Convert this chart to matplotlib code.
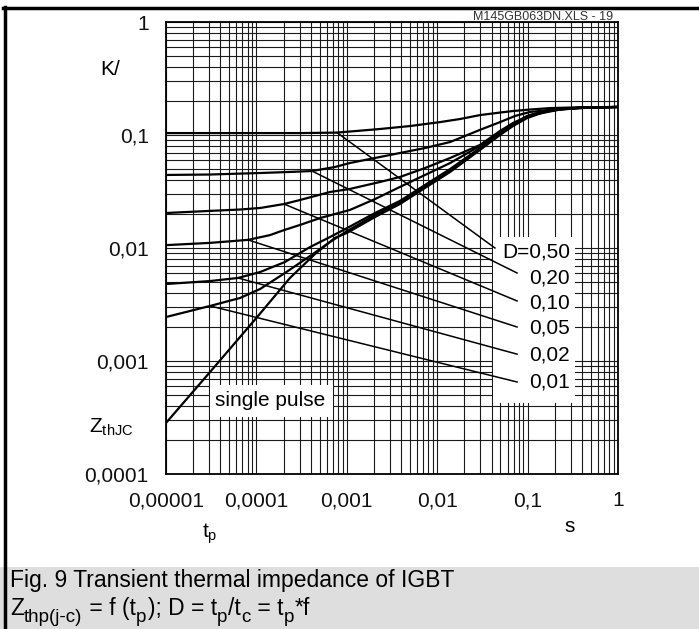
import matplotlib
matplotlib.use("Agg")
import matplotlib.pyplot as plt
from matplotlib.patches import Rectangle
from matplotlib.lines import Line2D

plt.rcParams['font.family'] = 'Liberation Sans'
plt.rcParams['mathtext.fontset'] = 'custom'
plt.rcParams['mathtext.rm'] = 'Liberation Sans'
plt.rcParams['mathtext.it'] = 'Liberation Sans:italic'

# ---------------- data (tp in s, Z in K/W) ----------------
tp_single = [1e-5, 3.07e-5, 1.02e-4, 2.35e-4, 4.45e-4, 7.40e-4, 1.005e-3, 2.05e-3, 3.87e-3, 7.33e-3,
             1.39e-2, 2.97e-2, 4.95e-2, 6.89e-2, 9.85e-2, 0.164, 0.38, 1.0]
z_single = [0.000283, 0.000799, 0.00245, 0.00543, 0.00885, 0.0123, 0.0136, 0.0188, 0.0245, 0.0340,
            0.0471, 0.0737, 0.100, 0.120, 0.141, 0.163, 0.175, 0.177]

tp_d001 = [1e-5, 3.07e-5, 6.59e-5, 1.10e-4, 2.07e-4, 3.92e-4, 6.52e-4, 1.005e-3, 2.05e-3, 3.87e-3,
           7.33e-3, 1.39e-2, 2.97e-2, 4.95e-2, 6.89e-2, 9.85e-2, 0.164, 0.38, 1.0]
z_d001 = [0.00245, 0.00307, 0.00361, 0.00434, 0.00601, 0.00849, 0.0113, 0.0141, 0.0196, 0.0253,
          0.0347, 0.0480, 0.0752, 0.102, 0.1214, 0.144, 0.1647, 0.175, 0.177]

tp_d002 = [1e-5, 3.07e-5, 6.25e-5, 1.10e-4, 2.07e-4, 3.92e-4, 6.52e-4, 1.005e-3, 2.05e-3, 3.87e-3,
           7.33e-3, 1.39e-2, 2.97e-2, 4.95e-2, 6.89e-2, 9.85e-2, 0.164, 0.38, 1.0]
z_d002 = [0.00480, 0.00510, 0.00543, 0.00613, 0.00752, 0.0102, 0.0125, 0.0150, 0.0204, 0.0261,
          0.0361, 0.0500, 0.0767, 0.104, 0.123, 0.1473, 0.166, 0.175, 0.177]

tp_d005 = [1e-5, 3.07e-5, 8.07e-5, 1.41e-4, 2.02e-4, 3.04e-4, 5.05e-4, 1.08e-3, 2.05e-3, 3.87e-3,
           7.33e-3, 1.39e-2, 2.97e-2, 4.95e-2, 6.89e-2, 0.106, 0.228, 0.49, 1.0]
z_d005 = [0.0106, 0.0111, 0.0118, 0.0130, 0.0144, 0.0160, 0.0184, 0.0217, 0.0271, 0.0347,
          0.0443, 0.0565, 0.0799, 0.1063, 0.125, 0.1488, 0.168, 0.175, 0.177]

tp_d010 = [1e-5, 3.07e-5, 6.59e-5, 1.10e-4, 2.02e-4, 3.04e-4, 6.52e-4, 1.08e-3, 2.33e-3, 3.87e-3,
           7.33e-3, 1.39e-2, 2.97e-2, 4.95e-2, 6.89e-2, 0.106, 0.228, 0.49, 1.0]
z_d010 = [0.0204, 0.0213, 0.0219, 0.0226, 0.0245, 0.0266, 0.0313, 0.0333, 0.0384, 0.0425,
          0.0510, 0.0626, 0.0816, 0.1085, 0.1277, 0.150, 0.170, 0.175, 0.177]

tp_d020 = [1e-5, 3.07e-5, 1.10e-4, 2.35e-4, 4.12e-4, 7.40e-4, 1.08e-3, 2.05e-3, 3.87e-3, 7.33e-3,
           1.39e-2, 2.03e-2, 2.97e-2, 4.95e-2, 7.26e-2, 0.106, 0.228, 0.49, 1.0]
z_d020 = [0.0443, 0.0447, 0.0461, 0.0471, 0.0480, 0.0521, 0.0565, 0.0626, 0.0693, 0.0767,
          0.0867, 0.098, 0.111, 0.130, 0.1473, 0.1598, 0.170, 0.175, 0.177]

tp_d050 = [1e-5, 8.49e-5, 3.04e-4, 7.79e-4, 2.33e-3, 5.00e-3, 1.07e-2, 1.79e-2, 2.97e-2, 4.95e-2,
           6.89e-2, 0.106, 0.177, 0.38, 1.0]
z_d050 = [0.104, 0.104, 0.104, 0.105, 0.113, 0.120, 0.130, 0.1385, 0.150, 0.158,
          0.163, 0.168, 0.173, 0.1759, 0.177]

curves = [(tp_single, z_single), (tp_d001, z_d001), (tp_d002, z_d002), (tp_d005, z_d005),
          (tp_d010, z_d010), (tp_d020, z_d020), (tp_d050, z_d050)]

# duty cycle labels and their leader lines
d_labels = ['D=0,50', '0,20', '0,10', '0,05', '0,02', '0,01']
label_x = 0.294
label_y = [0.00922, 0.00543, 0.00326, 0.00196, 0.00113, 0.000652]
lead_x0 = [7.79e-4, 4.12e-4, 2.02e-4, 8.07e-5, 6.25e-5, 3.07e-5]
lead_y0 = [0.105, 0.048, 0.0245, 0.0118, 0.00543, 0.00307]
lead_x1 = [0.0435, 0.0764, 0.0764, 0.0764, 0.0764, 0.0764]
lead_y1 = [0.0100, 0.00601, 0.0034, 0.0020, 0.00115, 0.000652]

xticks = [1e-5, 1e-4, 1e-3, 1e-2, 1e-1, 1]
xticklabels = ['0,00001', '0,0001', '0,001', '0,01', '0,1', '1']
yticks = [1e-4, 1e-3, 1e-2, 1e-1, 1]
yticklabels = ['0,0001', '0,001', '0,01', '0,1', '1']

caption1 = 'Fig. 9 Transient thermal impedance of IGBT'
# (text, is_subscript)
caption2 = [('Z', False), ('thp(j-c)', True), (' = f (t', False), ('p', True), ('); D = t', False),
            ('p', True), ('/t', False), ('c', True), (' = t', False), ('p', True), ('*f', False)]

# ---------------- figure ----------------
W, H = 699, 629
fig = plt.figure(figsize=(W / 100, H / 100), dpi=100)
ax = fig.add_axes([166 / W, 1 - 474 / H, 452 / W, 452 / H])
ax.set_xscale('log')
ax.set_yscale('log')
ax.set_xlim(1e-5, 1)
ax.set_ylim(1e-4, 1)

ax.set_axisbelow(True)
ax.grid(True, which='both', color='#1a1a1a', linewidth=0.8)
ax.set_xticks(xticks)
ax.set_xticklabels(xticklabels)
ax.set_yticks(yticks)
ax.set_yticklabels(yticklabels)
ax.tick_params(which='both', length=0, labelsize=15, pad=12.5, colors='#111')
for s in ax.spines.values():
    s.set_linewidth(1.3)

# white boxes behind the labels
ax.add_patch(Rectangle(((493 - 166) / 452, (474 - 403) / 452), 82 / 452, 166 / 452,
                       transform=ax.transAxes, facecolor='white', edgecolor='none', zorder=1))
ax.add_patch(Rectangle(((210 - 166) / 452, (474 - 417) / 452), 123 / 452, 32 / 452,
                       transform=ax.transAxes, facecolor='white', edgecolor='none', zorder=1))

for tp, z in curves:
    ax.plot(tp, z, color='black', linewidth=1.6, zorder=3, solid_joinstyle='round')

for i in range(len(d_labels)):
    ax.plot([lead_x0[i], lead_x1[i]], [lead_y0[i], lead_y1[i]], color='black', linewidth=1.1, zorder=3)
    ax.text(label_x, label_y[i], d_labels[i], ha='right', va='center', fontsize=15, zorder=4)

ax.text((270 - 166) / 452, (474 - 401) / 452, 'single pulse', transform=ax.transAxes,
        ha='center', va='center', fontsize=15, zorder=4)

fig.text(100 / W, 1 - 75 / H, 'K/', fontsize=15, ha='left', va='baseline')
fig.text(89 / W, 1 - 433 / H, r'Z$_\mathrm{thJC}$', fontsize=15, ha='left', va='baseline')
fig.text(202 / W, 1 - 538 / H, r't$_\mathrm{p}$', fontsize=15, ha='left', va='baseline')
fig.text(570 / W, 1 - 532 / H, 's', fontsize=15, ha='center', va='baseline')
fig.text(613 / W, 1 - 20 / H, 'M145GB063DN.XLS - 19', fontsize=9, ha='right', va='baseline', color='#333')

# caption area
fig.add_artist(Rectangle((0, 0), 1, (H - 567) / H, transform=fig.transFigure,
                         facecolor='#dedede', edgecolor='none', zorder=0))
fig.text(10 / W, 1 - 587 / H, caption1, fontsize=16.5, ha='left', va='baseline')

renderer = fig.canvas.get_renderer()


def text_width(s, size):
    # width including leading/trailing spaces
    a = fig.text(0, 0, 'x' + s + 'x', fontsize=size)
    b = fig.text(0, 0, 'xx', fontsize=size)
    w = a.get_window_extent(renderer).width - b.get_window_extent(renderer).width
    a.remove()
    b.remove()
    return w


x = 10
for s, sub in caption2:
    size = 13.5 if sub else 16.5
    y = 622 if sub else 615
    fig.text(x / W, 1 - y / H, s, fontsize=size, ha='left', va='baseline')
    x += text_width(s, size) + (1 if sub else 0)

# page border
fig.add_artist(Line2D([3 / W, 1], [1 - 8 / H, 1 - 8 / H], transform=fig.transFigure, color='black', linewidth=2.5))
fig.add_artist(Line2D([5 / W, 5 / W], [0, 1 - 7 / H], transform=fig.transFigure, color='black', linewidth=2.5))

fig.savefig('out.png', dpi=100)
